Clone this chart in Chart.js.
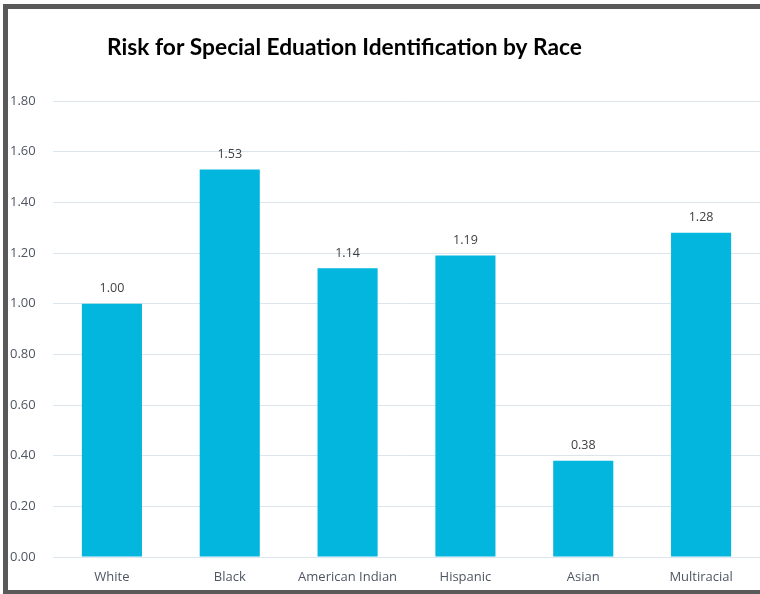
<!DOCTYPE html>
<html>
<head>
<meta charset="utf-8">
<script src="https://cdn.jsdelivr.net/npm/chart.js@4"></script>
<style>
html,body{margin:0;padding:0;background:#fff;overflow:hidden;}
#wrap{position:absolute;left:0;top:0;width:760px;height:594px;}
#frame{position:absolute;left:3px;top:4px;width:757px;height:590px;box-sizing:border-box;
  border-top:5px solid #595959;border-left:5px solid #595959;border-bottom:4px solid #595959;pointer-events:none;}
</style>
</head>
<body>
<div id="wrap"><canvas id="c" width="760" height="594"></canvas></div>
<div id="frame"></div>
<script>
const titleText = "Risk for Special Eduation Identification by Race";
const categories = ["White", "Black", "American Indian", "Hispanic", "Asian", "Multiracial"];
const riskValues = [1.00, 1.53, 1.14, 1.19, 0.38, 1.28];
const yTicks = [0, 0.2, 0.4, 0.6, 0.8, 1.0, 1.2, 1.4, 1.6, 1.8];

const extras = {
  id: 'extras',
  afterDatasetsDraw(chart) {
    const ctx = chart.ctx;
    const meta = chart.getDatasetMeta(0);
    ctx.save();
    ctx.font = '12.5px "Open Sans"';
    ctx.fillStyle = '#404040';
    ctx.textAlign = 'center';
    ctx.textBaseline = 'bottom';
    meta.data.forEach((bar, i) => {
      ctx.fillText(riskValues[i].toFixed(2), bar.x, bar.y - 9);
    });
    // title sized to the reference width
    ctx.font = 'bold 20px Lato';
    const w = ctx.measureText(titleText).width;
    const size = 20 * 475 / w;
    ctx.font = 'bold ' + size.toFixed(2) + 'px Lato';
    ctx.fillStyle = '#000000';
    ctx.textBaseline = 'alphabetic';
    ctx.fillText(titleText, 344.5, 55);
    ctx.restore();
  }
};

new Chart(document.getElementById('c'), {
  type: 'bar',
  data: {
    labels: categories,
    datasets: [{
      data: riskValues,
      backgroundColor: '#03B6DD',
      borderWidth: 0,
      barPercentage: 0.51,
      categoryPercentage: 1.0
    }]
  },
  options: {
    responsive: false,
    animation: false,
    layout: { padding: { left: 10, right: 0, top: 101, bottom: 0 } },
    plugins: { legend: { display: false }, tooltip: { enabled: false }, title: { display: false } },
    scales: {
      x: {
        afterFit(axis) { axis.height = 37; },
        grid: { display: false },
        border: { display: false },
        ticks: { color: '#4F5662', font: { family: 'Open Sans', size: 13 }, padding: 4, maxRotation: 0, autoSkip: false }
      },
      y: {
        min: 0, max: 1.8,
        afterBuildTicks(axis) { axis.ticks = yTicks.map(v => ({ value: v })); },
        afterFit(axis) { axis.width = 43; },
        grid: { color: '#DCE4EE', lineWidth: 1, drawTicks: false },
        border: { display: false },
        ticks: {
          color: '#4F5662', font: { family: 'Open Sans', size: 13 }, padding: 8, crossAlign: 'far',
          callback: v => Number(v).toFixed(2)
        }
      }
    }
  },
  plugins: [extras]
});
</script>
</body>
</html>
